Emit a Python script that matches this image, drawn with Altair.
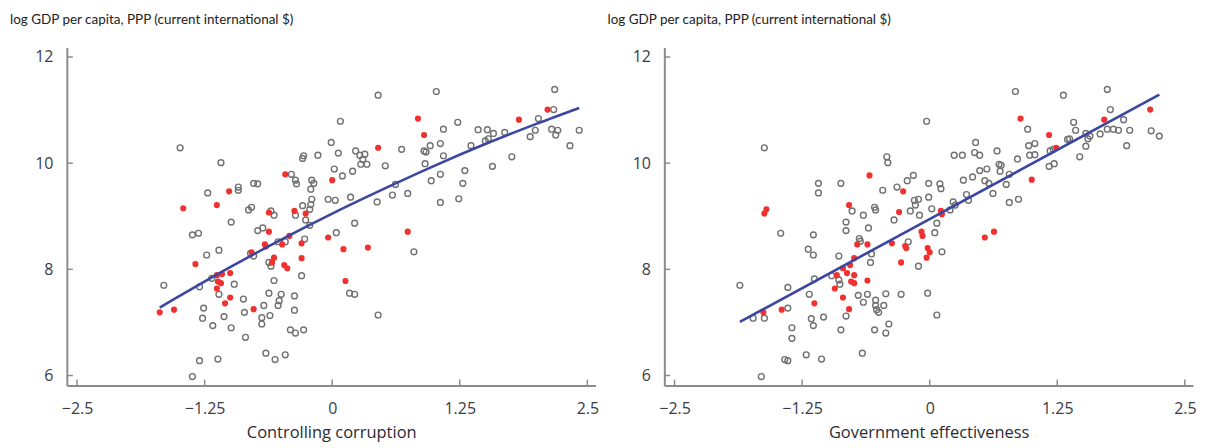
import altair as alt
import pandas as pd

# ---------------- data ----------------
# Left panel: Controlling corruption (hollow = other countries, red = highlighted)
cc_hollow_x = [-1.49, -1.09, -1.22, -0.92, -0.92, -0.77, -0.73, -0.82, -0.79, -0.60, -0.57, -0.99,
               -1.37, -1.31, -0.73, -0.68, -1.23, -1.11, -0.80, -0.77, -0.53, -0.46, -0.62, -0.60,
               -0.28, -0.29, -0.14, -0.01, -0.40, -0.36, -0.35, -0.20, -0.18, -0.21, -0.20, -0.21,
               -0.29, -0.22, -0.36, -0.26, -0.22, -0.27, 0.02, 0.06, -0.04, 0.03, 0.04, -1.65,
               -1.30, -1.18, -1.11, -0.96, -1.26, -1.27, -1.17, -1.06, -0.99, -0.87, -0.86, -0.85,
               -1.30, -1.12, -1.37, -0.57, -0.62, -0.50, -0.67, -0.52, -0.53, -0.61, -0.69, -0.69,
               -0.37, -0.37, -0.30, -0.41, -0.36, -0.28, -0.65, -0.56, -0.46,
               0.45, 1.02, 2.18, 0.08, 0.23, 0.27, 0.32, 0.30, 0.28, 0.34, 0.10, 0.20, 0.52, 0.68,
               1.09, 1.23, 0.90, 0.92, 0.96, 1.06, 0.91, 1.09, 1.06, 0.97, 1.30, 1.28, 1.24, 1.06,
               1.36, 1.43, 1.52, 1.58, 1.50, 1.53, 1.69, 1.57, 1.76, 1.94, 1.99, 2.02, 2.17, 2.15,
               2.21, 2.19, 2.33, 2.42, 0.62, 0.59, 0.74, 0.44, 0.18, 0.22, 0.80, 0.17, 0.22, 0.45]
cc_hollow_y = [10.29, 10.01, 9.44, 9.55, 9.49, 9.62, 9.61, 9.12, 9.17, 9.10, 9.02, 8.89,
               8.65, 8.68, 8.73, 8.78, 8.27, 8.36, 8.30, 8.25, 8.52, 8.52, 8.13, 8.06,
               10.14, 10.09, 10.15, 10.39, 9.79, 9.68, 9.61, 9.68, 9.62, 9.51, 9.32, 9.22,
               9.20, 9.13, 9.02, 8.93, 8.83, 8.57, 9.89, 10.19, 9.32, 9.30, 8.69, 7.70,
               7.67, 7.83, 7.53, 7.72, 7.27, 7.08, 6.94, 7.11, 6.90, 7.44, 7.19, 6.72,
               6.28, 6.31, 5.98, 7.79, 7.55, 7.53, 7.32, 7.41, 7.32, 7.13, 7.09, 6.97,
               7.50, 7.23, 7.88, 6.86, 6.80, 6.86, 6.42, 6.30, 6.39,
               11.28, 11.35, 11.39, 10.79, 10.23, 10.15, 10.17, 10.07, 9.98, 9.98, 9.76, 9.85, 9.95, 10.26,
               10.64, 10.77, 10.23, 10.21, 10.33, 10.37, 9.99, 10.14, 9.79, 9.67, 9.86, 9.62, 9.33, 9.26,
               10.33, 10.63, 10.63, 10.56, 10.42, 10.46, 10.58, 9.94, 10.12, 10.50, 10.62, 10.84, 11.01, 10.64,
               10.62, 10.53, 10.33, 10.62, 9.60, 9.40, 9.43, 9.27, 9.36, 8.87, 8.33, 7.55, 7.53, 7.14]
cc_red_x = [-1.69, -1.55, -1.46, -1.34, -1.13, -1.01, -1.13, -1.08, -1.00, -1.12, -1.09, -1.13,
            -1.00, -1.05, -0.77, -0.79, -0.66, -0.65, -0.62, -0.62, -0.46, -0.37, -0.26, -0.42,
            -0.49, -0.57, -0.59, -0.47, -0.44, -0.30, -0.30, 0.00, -0.04, 0.84, 0.90, 0.45,
            1.83, 2.11, 0.74, 0.11, 0.35, 0.13]
cc_red_y = [7.19, 7.24, 9.15, 8.10, 9.21, 9.47, 7.89, 7.91, 7.93, 7.77, 7.74, 7.64,
            7.47, 7.36, 7.25, 8.32, 8.47, 8.43, 9.07, 8.71, 9.79, 9.10, 9.05, 8.63,
            8.47, 8.22, 8.13, 8.08, 8.02, 8.49, 8.21, 9.68, 8.60, 10.84, 10.53, 10.29,
            10.82, 11.01, 8.71, 8.38, 8.41, 7.78]
cc_fit_x = [-1.69, -1.0, -0.5, 0.0, 0.5, 1.0, 1.5, 2.0, 2.42]
cc_fit_y = [7.28, 8.04, 8.56, 9.05, 9.51, 9.95, 10.36, 10.74, 11.04]

# Right panel: Government effectiveness
ge_hollow_x = [-1.62, -1.86, -1.73, -1.62, -1.46, -1.39, -1.39, -1.35, -1.35, -1.42, -1.39, -1.65,
               -1.21, -1.06, -1.18, -1.16, -1.14, -1.04, -1.13, -1.14, -1.19, -1.14, -1.09, -1.09,
               -0.87, -0.82, -0.82, -0.76, -0.89, -0.96, -0.89, -0.88, -0.82, -0.87, -0.66, -0.65,
               -0.54, -0.53, -0.60, -0.69, -0.68, -0.57, -0.58, -0.42, -0.41, -0.46, -0.70, -0.65,
               -0.61, -0.53, -0.53, -0.52, -0.50, -0.45, -0.43, -0.54, -0.43, -0.40, -0.28, -0.35,
               -0.32, -0.22, -0.16, -0.15, -0.11, -0.19, -0.10, -0.14, -0.21, -0.11, -0.02, -0.01,
               -0.01,
               0.84, 1.31, 1.74, 1.77, -0.03, 0.45, 0.44, 0.49, 0.24, 0.32, 0.66, 0.96, 0.86, 0.97,
               1.03, 0.98, 1.03, 0.49, 0.56, 0.42, 0.33, 0.54, 0.58, 0.68, 0.70, 0.69, 0.78, 0.75,
               0.10, 0.11, 0.02, 0.23, 0.25, 0.20, 0.36, 0.38, 0.62, 0.78, 0.87, 0.07, 0.05, 0.12,
               0.07, 1.18, 1.21, 1.17, 1.22, 1.41, 1.43, 1.35, 1.37, 1.53, 1.55, 1.57, 1.53, 1.47,
               1.67, 1.74, 1.80, 1.85, 1.90, 1.96, 1.93, 2.17, 2.25]
ge_hollow_y = [10.29, 7.70, 7.08, 7.08, 8.68, 7.66, 7.27, 6.90, 6.70, 6.30, 6.28, 5.98,
               6.39, 6.31, 7.53, 7.07, 6.94, 7.10, 7.82, 8.65, 8.38, 8.27, 9.62, 9.44,
               9.62, 8.89, 8.73, 9.10, 8.25, 7.88, 7.80, 7.72, 7.12, 6.86, 6.42, 9.02,
               9.17, 9.12, 8.78, 8.58, 8.53, 8.29, 8.13, 10.12, 10.01, 9.49, 7.51, 7.38,
               7.53, 7.42, 7.32, 7.24, 7.19, 7.32, 7.54, 6.86, 6.80, 6.97, 7.53, 8.93,
               9.55, 9.67, 9.77, 9.30, 9.32, 9.10, 9.02, 9.21, 8.52, 8.06, 7.55, 9.62,
               9.36,
               11.35, 11.28, 11.39, 11.01, 10.79, 10.39, 10.20, 10.15, 10.15, 10.15, 10.23, 10.64, 10.08, 10.33,
               10.37, 10.15, 10.16, 9.86, 9.89, 9.74, 9.68, 9.67, 9.62, 9.98, 9.96, 9.85, 9.79, 9.60,
               9.61, 9.52, 9.14, 9.27, 9.21, 9.12, 9.41, 9.30, 9.43, 9.26, 9.32, 8.87, 8.69, 8.33,
               7.14, 10.23, 10.26, 9.94, 9.99, 10.77, 10.62, 10.45, 10.46, 10.56, 10.46, 10.51, 10.32, 10.12,
               10.55, 10.64, 10.64, 10.62, 10.82, 10.62, 10.33, 10.61, 10.51]
ge_red_x = [-1.60, -1.62, -1.63, -1.45, -1.13, -0.93, -0.85, -0.79, -0.91, -0.85, -0.81, -0.78,
            -0.74, -0.74, -0.77, -0.74, -0.71, -0.61, -0.61, -0.79, -0.59, -0.37, -0.30, -0.26,
            -0.24, -0.23, -0.28, -0.08, -0.07, -0.02, 0.00, -0.03, 0.89, 1.17, 1.24, 1.71,
            2.16, 1.00, 0.11, 0.12, 0.54, 0.63]
ge_red_y = [9.13, 9.05, 7.19, 7.24, 7.36, 7.64, 7.47, 7.25, 7.89, 8.02, 7.93, 8.08,
            8.21, 7.89, 7.77, 7.74, 8.47, 8.47, 7.79, 9.21, 9.77, 8.49, 9.08, 9.47,
            8.44, 8.40, 8.13, 8.71, 8.63, 8.40, 8.32, 8.22, 10.84, 10.53, 10.29, 10.82,
            11.01, 9.69, 9.10, 9.04, 8.60, 8.71]
ge_fit_x = [-1.86, 2.25]
ge_fit_y = [7.01, 11.29]

x_ticks = [-2.5, -1.25, 0, 1.25, 2.5]
y_ticks = [6, 8, 10, 12]
y_title = "log GDP per capita, PPP (current international $)"

# ---------------- chart ----------------
W, H = 530, 339
FONT = "Open Sans"
AXIS_GRAY = "#8c8c8c"

xs = alt.Scale(domain=[-2.6, 2.58], nice=False, zero=False)
ys = alt.Scale(domain=[5.81, 12.18], nice=False, zero=False)
label_expr = "datum.value < 0 ? '\u2212' + format(-datum.value, '') : format(datum.value, '')"


def panel(hx, hy, rx, ry, fx, fy, xtitle):
    xax = alt.Axis(values=x_ticks, ticks=False, grid=False, labelExpr=label_expr,
                   title=xtitle, labelPadding=15, titlePadding=8)
    yax = alt.Axis(values=y_ticks, ticks=False, grid=False, title=None, labelPadding=14)
    X = lambda f: alt.X(f, type="quantitative", scale=xs, axis=xax)
    Y = lambda f: alt.Y(f, type="quantitative", scale=ys, axis=yax)

    hollow = alt.Chart(pd.DataFrame({"x": hx, "y": hy})).mark_point(
        shape="circle", filled=False, stroke="#707070", strokeWidth=1.4, size=34, opacity=1
    ).encode(x=X("x"), y=Y("y"))
    red = alt.Chart(pd.DataFrame({"x": rx, "y": ry})).mark_circle(
        color="#f2302e", size=38, opacity=1
    ).encode(x=X("x"), y=Y("y"))
    fit = alt.Chart(pd.DataFrame({"x": fx, "y": fy})).mark_line(
        color="#3a46a2", strokeWidth=2.6, interpolate="monotone"
    ).encode(x=X("x"), y=Y("y"))
    xt = alt.Chart(pd.DataFrame({"x": x_ticks})).mark_rule(
        color=AXIS_GRAY, strokeWidth=1.5
    ).encode(x=X("x"), y=alt.value(H), y2=alt.value(H - 6))
    yt = alt.Chart(pd.DataFrame({"y": y_ticks})).mark_rule(
        color=AXIS_GRAY, strokeWidth=1.5
    ).encode(y=Y("y"), x=alt.value(0), x2=alt.value(6))

    return alt.layer(hollow, red, fit, xt, yt).properties(
        width=W, height=H,
        title=alt.TitleParams(y_title, anchor="start", frame="group", dx=-57,
                              fontSize=13.5, font="Lato", fontWeight="normal",
                              color="#222", offset=21),
    )


left = panel(cc_hollow_x, cc_hollow_y, cc_red_x, cc_red_y, cc_fit_x, cc_fit_y,
             "Controlling corruption")
right = panel(ge_hollow_x, ge_hollow_y, ge_red_x, ge_red_y, ge_fit_x, ge_fit_y,
              "Government effectiveness")

chart = alt.hconcat(left, right, spacing=8).properties(
    padding={"left": 2, "top": 4, "right": 0, "bottom": 0}
).configure_view(stroke=None).configure_axis(
    domainColor=AXIS_GRAY, domainWidth=2, labelFont=FONT, labelFontSize=16,
    labelColor="#3b3b48", titleFont=FONT, titleFontSize=16.5, titleFontWeight="normal",
    titleColor="#2a2a33",
)

chart.save("out.html", embed_options={"renderer": "svg", "actions": False})
